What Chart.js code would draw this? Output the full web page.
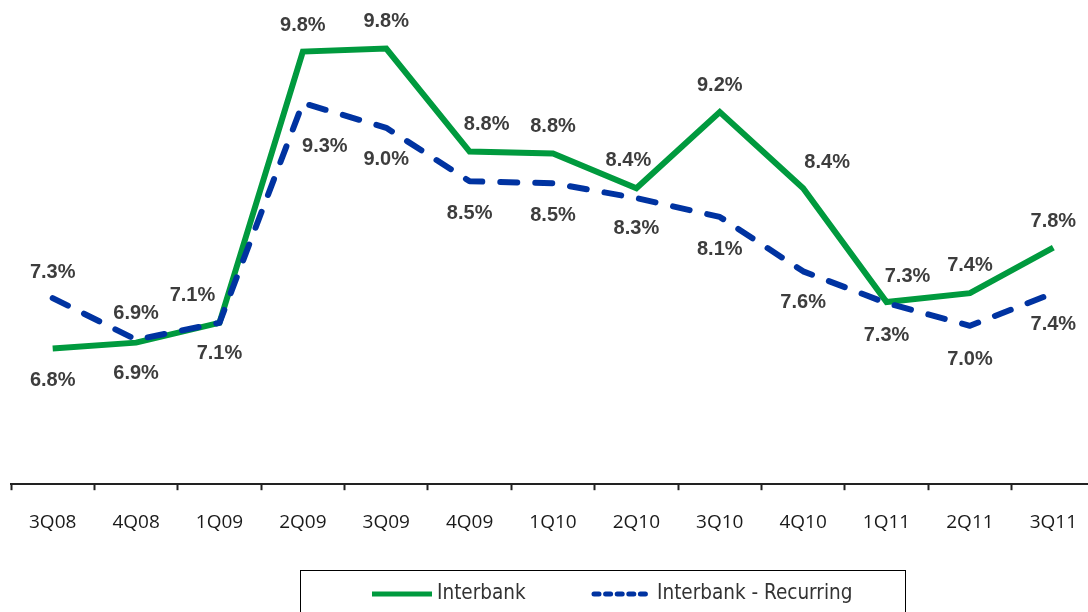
<!DOCTYPE html>
<html>
<head>
<meta charset="utf-8">
<title>Interbank NIM</title>
<script src="https://cdn.jsdelivr.net/npm/chart.js@4.4.1/dist/chart.umd.min.js"></script>
<style>
    html, body { margin: 0; padding: 0; background: #fff; overflow: hidden; }
    #wrap { position: absolute; left: 0; top: 0; width: 1098px; height: 612px; }
</style>
</head>
<body>
<div id="wrap"><canvas id="nimChart"></canvas></div>
<script>

// ==========================================
// Data
// ==========================================

const quarters = ["3Q08", "4Q08", "1Q09", "2Q09", "3Q09", "4Q09", "1Q10",
                  "2Q10", "3Q10", "4Q10", "1Q11", "2Q11", "3Q11"];

const interbank = [6.80, 6.86, 7.06, 9.80, 9.83, 8.79, 8.77, 8.42, 9.19, 8.42, 7.27, 7.36, 7.82];

const recurring = [7.31, 6.89, 7.06, 9.28, 9.03, 8.49, 8.47, 8.32, 8.13, 7.58, 7.26, 7.03, 7.36];

const seriesNames = ["Interbank", "Interbank - Recurring"];

const yMin = 5.43;
const yMax = 10.22;

const GREEN = "#009a3e";
const BLUE = "#0033a1";


// ==========================================
// Value labels (offsets from each point)
// ==========================================

const labelOffsets = [
    // Interbank
    [[0, 32], [0, 31], [0, 31], [0, -26], [0, -27], [17, -27], [0, -27],
     [-8, -28], [0, -26], [24, -26], [21, -26], [0, -28], [0, -26]],
    // Interbank - Recurring
    [[0, -26], [0, -26], [-27, -27], [22, 43], [0, 32], [0, 32], [0, 32],
     [0, 30], [0, 33], [0, 31], [0, 32], [0, 34], [0, 31]]
];

const valueLabels = {
    id: "valueLabels",
    afterDatasetsDraw(chart) {
        const ctx = chart.ctx;
        ctx.save();
        ctx.font = "bold 20px 'Liberation Sans', Arial, sans-serif";
        ctx.fillStyle = "#3d3d3d";
        ctx.textAlign = "center";
        ctx.textBaseline = "middle";
        chart.data.datasets.forEach((ds, di) => {
            const meta = chart.getDatasetMeta(di);
            meta.data.forEach((pt, i) => {
                const off = labelOffsets[di][i];
                ctx.fillText(ds.data[i].toFixed(1) + "%", pt.x + off[0], pt.y + off[1]);
            });
        });
        ctx.restore();
    }
};


// ==========================================
// Boxed legend
// ==========================================

const boxLegend = {
    id: "boxLegend",
    afterDraw(chart) {
        const ctx = chart.ctx;
        const ds = chart.data.datasets;
        ctx.save();

        ctx.strokeStyle = "#000";
        ctx.lineWidth = 1;
        ctx.strokeRect(300.5, 570.5, 605, 80);

        const y = 594;

        ctx.lineCap = "butt";
        ctx.lineWidth = 5;
        ctx.strokeStyle = ds[0].borderColor;
        ctx.beginPath();
        ctx.moveTo(372, y);
        ctx.lineTo(432, y);
        ctx.stroke();

        ctx.lineCap = "round";
        ctx.setLineDash([5, 6.6]);
        ctx.strokeStyle = ds[1].borderColor;
        ctx.beginPath();
        ctx.moveTo(594, y);
        ctx.lineTo(650, y);
        ctx.stroke();
        ctx.setLineDash([]);

        ctx.font = "20.5px 'DejaVu Sans Condensed', 'DejaVu Sans', sans-serif";
        ctx.fillStyle = "#333";
        ctx.textAlign = "left";
        ctx.textBaseline = "middle";
        ctx.fillText(ds[0].label, 437, y);
        ctx.fillText(ds[1].label, 657, y);

        ctx.restore();
    }
};


// ==========================================
// Chart
// ==========================================

new Chart(document.getElementById("nimChart").getContext("2d"), {

    type: "line",

    data: {
        labels: quarters,
        datasets: [
            {
                label: seriesNames[0],
                data: interbank,
                borderColor: GREEN,
                backgroundColor: GREEN,
                borderWidth: 6,
                borderJoinStyle: "miter",
                pointRadius: 0,
                tension: 0,
                order: 2
            },
            {
                label: seriesNames[1],
                data: recurring,
                borderColor: BLUE,
                backgroundColor: BLUE,
                borderWidth: 6,
                borderDash: [17, 18],
                borderCapStyle: "round",
                borderJoinStyle: "round",
                pointRadius: 0,
                tension: 0,
                order: 1
            }
        ]
    },

    options: {
        responsive: true,
        maintainAspectRatio: false,
        animation: false,
        layout: {
            padding: { top: 10, left: 11, right: 0, bottom: 57 }
        },
        plugins: {
            legend: { display: false },
            tooltip: { enabled: false }
        },
        scales: {
            x: {
                offset: true,
                border: { display: true, color: "#222", width: 2 },
                grid: {
                    offset: true,
                    drawOnChartArea: false,
                    drawTicks: true,
                    tickLength: 6,
                    tickWidth: 2,
                    tickColor: "#222"
                },
                ticks: {
                    padding: 21,
                    color: "#1a1a1a",
                    font: { family: "'Open Sans', sans-serif", size: 19 }
                }
            },
            y: {
                display: false,
                min: yMin,
                max: yMax
            }
        }
    },

    plugins: [valueLabels, boxLegend]

});

</script>
</body>
</html>
